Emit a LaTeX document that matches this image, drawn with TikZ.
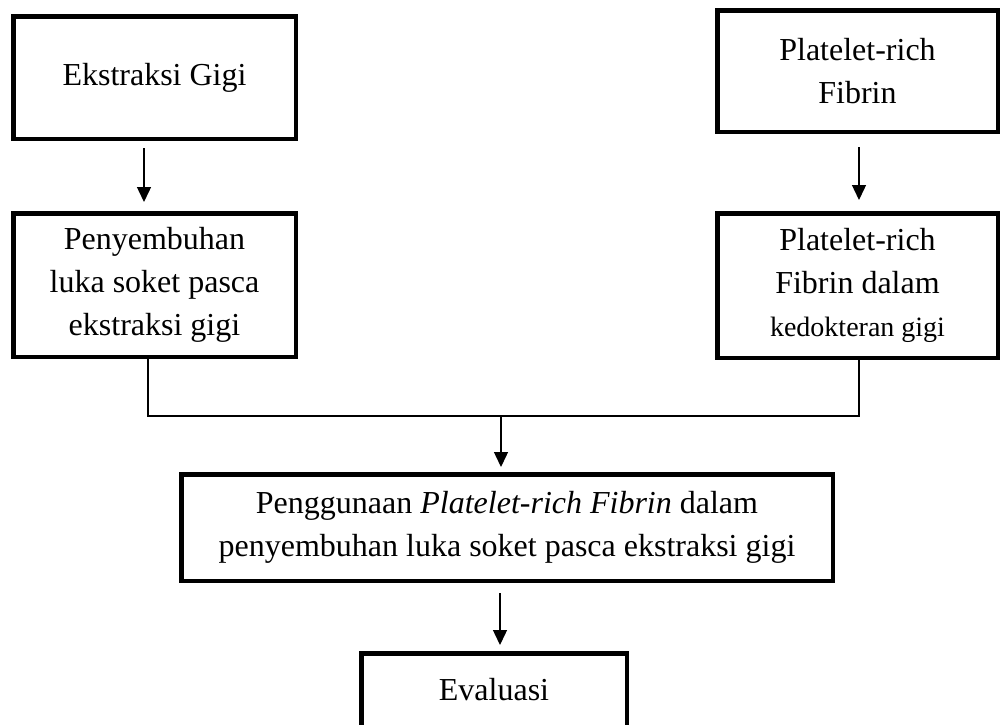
\documentclass[tikz,border=0pt]{standalone}
\usepackage{fontspec}
\setmainfont{Liberation Serif}
\usetikzlibrary{arrows.meta}

\begin{document}
\begin{tikzpicture}[x=1pt, y=-1pt,
  kotak/.style={draw, line width=4.5pt, align=center, inner sep=0pt, font=\fontsize{32}{43}\selectfont},
  panah/.style={-{Triangle[length=15pt, width=14pt]}, line width=1.4pt},
  garis/.style={line width=1.3pt}]
\useasboundingbox (0,0) rectangle (1001,724);
\node[kotak, minimum width=282.5pt, minimum height=122.5pt] (ekstraksi) at (154.5,77.5) {Ekstraksi Gigi};
\node[kotak, minimum width=280.5pt, minimum height=121.5pt] (prf) at (857.5,71) {Platelet-rich\\Fibrin};
\node[kotak, minimum width=282.5pt, minimum height=143.5pt] (penyembuhan) at (154.5,285) {Penyembuhan\\luka soket pasca\\ekstraksi gigi};
\node[kotak, minimum width=280.5pt, minimum height=144.5pt] (prfkg) at (857.5,285.5) {Platelet-rich\\Fibrin dalam\\{\fontsize{28}{43}\selectfont kedokteran gigi}};
\node[kotak, minimum width=651.5pt, minimum height=106.5pt] (penggunaan) at (507,527.5) {Penggunaan \textit{Platelet-rich Fibrin} dalam\\penyembuhan luka soket pasca ekstraksi gigi};
\node[kotak, minimum width=265.5pt, minimum height=73.5pt] (evaluasi) at (494,690) {Evaluasi};
\coordinate (temu) at (501,416);
\draw[panah, shorten <=7pt, shorten >=9pt] ([xshift=-10.5pt]ekstraksi.south) -- ([xshift=-10.5pt]penyembuhan.north);
\draw[panah, shorten <=13pt, shorten >=11pt] ([xshift=1.5pt]prf.south) -- ([xshift=1.5pt]prfkg.north);
\draw[garis] ([xshift=-6.5pt]penyembuhan.south) |- (temu) -| ([xshift=1.5pt]prfkg.south);
\draw[panah, shorten >=5pt] (temu) -- (temu |- penggunaan.north);
\draw[panah, shorten <=10pt, shorten >=6pt] ([xshift=-7pt]penggunaan.south) -- ([xshift=6pt]evaluasi.north);
\end{tikzpicture}
\end{document}
